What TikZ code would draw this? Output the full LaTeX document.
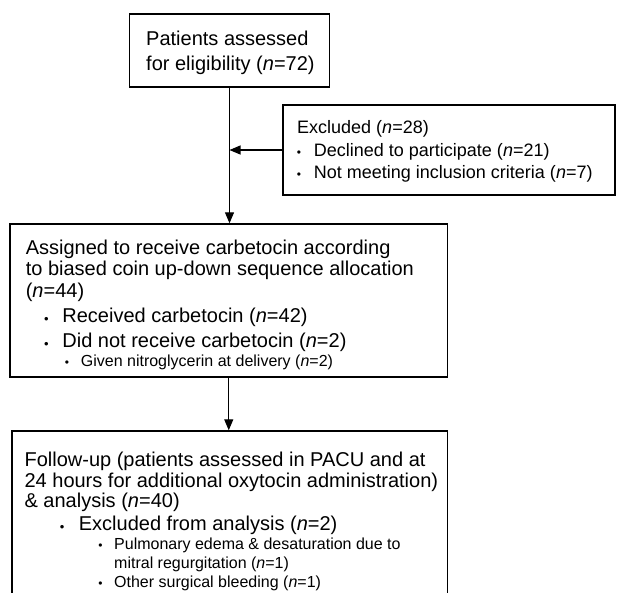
\documentclass[tikz,border=0pt]{standalone}
\usepackage{fontspec}
\setmainfont{Liberation Sans}
\usetikzlibrary{arrows.meta}
\tikzset{
  box/.style={draw=black,line width=1.4pt,inner sep=0pt,fill=white},
  arrow/.style={-{Triangle[length=11pt,width=9pt]},line width=1.1pt,draw=black},
  txt/.style={anchor=base west,inner sep=0pt,font=\fontsize{20}{24}\selectfont},
  txtM/.style={txt,font=\fontsize{18}{22}\selectfont},
  txtS/.style={txt,font=\fontsize{16}{19}\selectfont},
  dot/.style={anchor=base,inner sep=0pt,yshift=-1.5pt,font=\fontsize{13}{13}\selectfont},
  dotS/.style={anchor=base,inner sep=0pt,font=\fontsize{12}{12}\selectfont}
}
\begin{document}
\begin{tikzpicture}[x=1pt,y=-1pt]
\useasboundingbox (0,0) rectangle (617,592);
\clip (0,0) rectangle (617,592);
% boxes
\node[box,minimum width=200pt,minimum height=73pt] (assess) at (229.5,50.5) {};
\node[box,minimum width=332pt,minimum height=90pt] (excl) at (449,150) {};
\node[box,minimum width=437.5pt,minimum height=153pt] (assign) at (228.75,300.5) {};
\node[box,minimum width=435.5pt,minimum height=180pt] (follow) at (229.75,521) {};
% flow
\draw[arrow] (assess.south) -- (assess.south |- assign.north);
\draw[arrow] (excl.west) -- (excl.west -| assess.south);
\draw[arrow] (assign.south) -- (assign.south |- follow.north);
% eligibility
\foreach \y/\t [count=\i] in {45/Patients assessed,70/for eligibility (\textit{n}=72)}
  \node[txt] (assess\i) at (146,\y) {\t};
% excluded
\node[txtM] (exhead) at (297,133.4) {Excluded (\textit{n}=28)};
\foreach \y/\t [count=\i] in {156.4/Declined to participate (\textit{n}=21),178.4/Not meeting inclusion criteria (\textit{n}=7)}{
  \node[dotS] (exdot\i) at (299,\y) {•};
  \node[txtM] (exitem\i) at (313.7,\y) {\t};
}
% assigned
\foreach \y/\t [count=\i] in {254/Assigned to receive carbetocin according,275.5/to biased coin up-down sequence allocation,297/(\textit{n}=44)}
  \node[txt] (ashead\i) at (25.6,\y) {\t};
\foreach \y/\t [count=\i] in {322/Received carbetocin (\textit{n}=42),347/Did not receive carbetocin (\textit{n}=2)}{
  \node[dot] (asdot\i) at (46.4,\y) {•};
  \node[txt] (asitem\i) at (62.2,\y) {\t};
}
\node[dotS] (assubdot) at (67,366) {•};
\node[txtS] (assub) at (80.7,366) {Given nitroglycerin at delivery (\textit{n}=2)};
% follow-up
\foreach \y/\t [count=\i] in {466/Follow-up (patients assessed in PACU and at,487/24 hours for additional oxytocin administration),507/\& analysis (\textit{n}=40)}
  \node[txt] (fuhead\i) at (24.4,\y) {\t};
\node[dot] (fudot) at (62.2,530) {•};
\node[txt] (fuitem) at (78.7,530) {Excluded from analysis (\textit{n}=2)};
\node[dotS] (fusubdot1) at (100.4,549) {•};
\node[txtS] (fusub1) at (114,549) {Pulmonary edema \& desaturation due to};
\node[txtS] (fusub1b) at (114,568) {mitral regurgitation (\textit{n}=1)};
\node[dotS] (fusubdot2) at (100.4,587) {•};
\node[txtS] (fusub2) at (114,587) {Other surgical bleeding (\textit{n}=1)};
\end{tikzpicture}
\end{document}
